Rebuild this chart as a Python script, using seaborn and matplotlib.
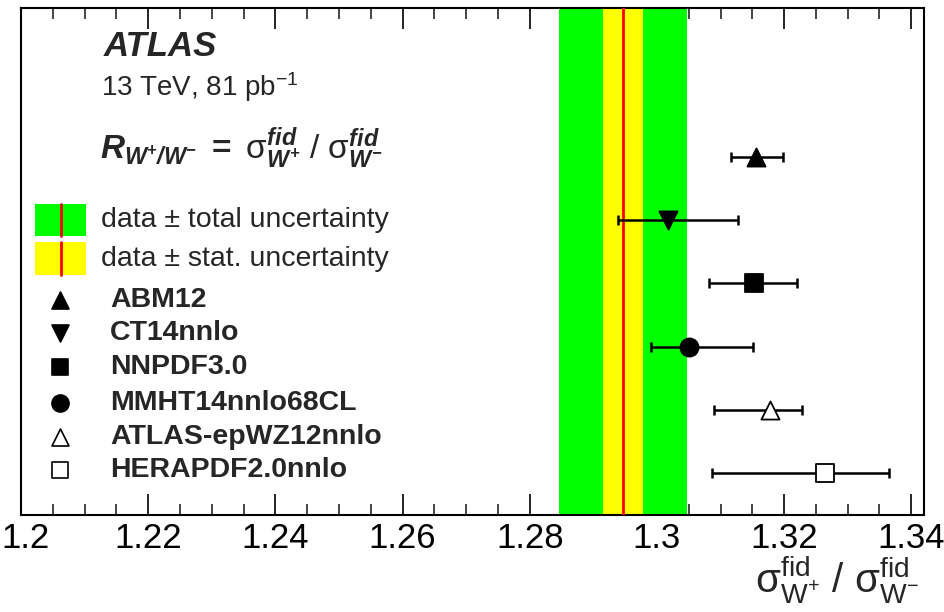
import numpy as np
import pandas as pd
import matplotlib
matplotlib.use("Agg")
import matplotlib.pyplot as plt
import matplotlib.transforms as mtransforms
from matplotlib.patches import Rectangle
import seaborn as sns

# Measured ratio and its uncertainties
data_central = 1.2947
data_stat = 0.0031
data_total = 0.0101

# Predictions from the PDF sets (top to bottom)
models = ["ABM12", "CT14nnlo", "NNPDF3.0", "MMHT14nnlo68CL", "ATLAS-epWZ12nnlo", "HERAPDF2.0nnlo"]
pred_central = [1.3156, 1.3018, 1.3152, 1.3050, 1.3178, 1.3265]
pred_low = [1.3116, 1.2939, 1.3082, 1.2991, 1.3089, 1.3086]
pred_high = [1.3198, 1.3128, 1.3221, 1.3151, 1.3228, 1.3365]

xticks = [1.20, 1.22, 1.24, 1.26, 1.28, 1.30, 1.32, 1.34]
xtick_labels = ["1.2", "1.22", "1.24", "1.26", "1.28", "1.3", "1.32", "1.34"]

marker_shapes = ["^", "v", "s", "o", "^", "s"]
marker_faces = ["black", "black", "black", "black", "white", "white"]

sns.set_theme(style="ticks")
plt.rcParams["font.family"] = ["Liberation Sans", "DejaVu Sans"]
plt.rcParams["mathtext.fontset"] = "custom"
plt.rcParams["mathtext.rm"] = "Liberation Sans"
plt.rcParams["mathtext.it"] = "Liberation Sans:italic"
plt.rcParams["mathtext.bf"] = "Liberation Sans:bold"
plt.rcParams["mathtext.bfit"] = "Liberation Sans:bold:italic"

fig = plt.figure(figsize=(9.45, 6.12), dpi=100)
ax = fig.add_axes([21 / 945, 1 - 515 / 612, 903 / 945, 507 / 612])

# Uncertainty bands and central value
ax.axvspan(data_central - data_total, data_central + data_total, color="#00ff00", lw=0, zorder=1)
ax.axvspan(data_central - data_stat, data_central + data_stat, color="#ffff00", lw=0, zorder=2)
ax.axvline(data_central, color="#ff0000", lw=2.0, zorder=3)

n = len(models)
ypos = np.arange(n, 0, -1).astype(float)
df = pd.DataFrame({"model": models, "x": pred_central, "y": ypos,
                   "lo": pred_low, "hi": pred_high})

for i, row in df.iterrows():
    ax.errorbar(row["x"], row["y"],
                xerr=[[row["x"] - row["lo"]], [row["hi"] - row["x"]]],
                fmt="none", ecolor="black", elinewidth=1.8, capsize=3.6,
                capthick=1.8, zorder=4)
    sns.scatterplot(x=[row["x"]], y=[row["y"]], marker=marker_shapes[i], s=170,
                    color=marker_faces[i], edgecolor="black", linewidth=1.3,
                    ax=ax, zorder=5, legend=False)

ax.set_xlim(1.2, 1.342)
ax.set_ylim(0.34, 8.35)
ax.set_xticks(xticks)
ax.set_xticklabels(xtick_labels, fontsize=25)
ax.set_xticks(np.arange(1.2, 1.3425, 0.005), minor=True)
ax.set_yticks([])
ax.tick_params(axis="x", which="major", direction="in", length=15, width=1.2,
               top=True, bottom=True, pad=5, colors="black")
ax.tick_params(axis="x", which="minor", direction="in", length=8, width=1.2,
               top=True, bottom=True)
ax.set_xlabel("")
ax.set_ylabel("")
for sp in ax.spines.values():
    sp.set_linewidth(1.5)
    sp.set_color("black")

# keep the leftmost tick label inside the canvas
first_label = ax.get_xticklabels()[0]
first_label.set_transform(first_label.get_transform() +
                          mtransforms.ScaledTranslation(4 / 100, 0, fig.dpi_scale_trans))


def px(x):
    return (x - 21) / 903


def py(y):
    return (515 - y) / 507


# Header texts
ax.text(px(104), py(47), "ATLAS", transform=ax.transAxes,
        fontsize=25, fontweight="bold", fontstyle="italic", va="center", ha="left")
ax.text(px(101), py(87), r"13 TeV, 81 pb$^{\mathregular{-1}}$", transform=ax.transAxes,
        fontsize=20, va="center", ha="left")
ax.text(px(100), py(148),
        r"$\mathbfit{R}_{\mathbfit{W^{+}/W^{-}}}\ \mathbf{=}\ "
        r"\mathrm{\sigma}^{\mathbfit{fid}}_{\mathbfit{W^{+}}}$ / "
        r"$\mathrm{\sigma}^{\mathbfit{fid}}_{\mathbfit{W^{-}}}$",
        transform=ax.transAxes, fontsize=24, va="center", ha="left")

# Legend: bands
for (top, bot, col, label) in [(204, 236, "#00ff00", "data \u00b1 total uncertainty"),
                               (242, 275, "#ffff00", "data \u00b1 stat. uncertainty")]:
    ax.add_patch(Rectangle((px(35), py(bot)), px(86) - px(35), py(top) - py(bot),
                           transform=ax.transAxes, facecolor=col, edgecolor="none",
                           zorder=6))
    ax.plot([px(61), px(61)], [py(bot), py(top)], transform=ax.transAxes,
            color="#ff0000", lw=2.0, zorder=7)
    ax.text(px(101), py((top + bot) / 2), label, transform=ax.transAxes,
            fontsize=20.5, va="center", ha="left")

# Legend: models
leg_y = [300, 333, 367, 403, 437, 470]
for i, m in enumerate(models):
    ax.scatter([px(60)], [py(leg_y[i])], transform=ax.transAxes, marker=marker_shapes[i],
               s=150 if marker_shapes[i] != "s" else 120, facecolor=marker_faces[i],
               edgecolor="black", linewidth=1.2, zorder=7, clip_on=False)
    ax.text(px(110), py(leg_y[i]), m, transform=ax.transAxes, fontsize=20.5,
            fontweight="bold", va="center", ha="left")

# Axis title
fig.text(919 / 945, 1 - 580 / 612,
         r"$\mathrm{\sigma}^{\mathrm{fid}}_{\mathrm{W^{+}}}$ / $\mathrm{\sigma}^{\mathrm{fid}}_{\mathrm{W^{-}}}$",
         fontsize=29, ha="right", va="center")

fig.savefig("out.png", dpi=100)
